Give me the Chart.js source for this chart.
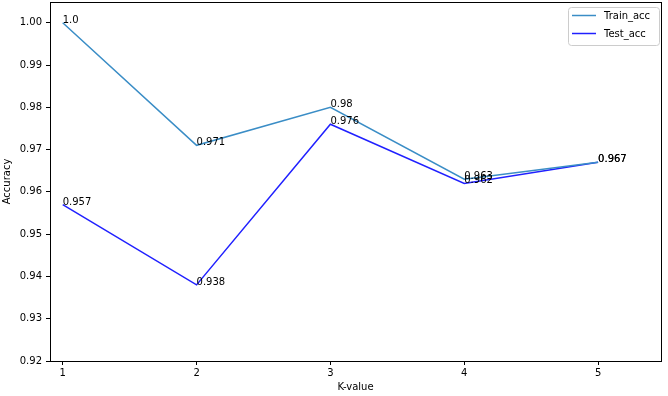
<!DOCTYPE html>
<html><head><meta charset="utf-8">
<script src="https://cdn.jsdelivr.net/npm/chart.js@4/dist/chart.umd.min.js"></script>
<style>html,body{margin:0;padding:0;background:#fff}#wrap{width:668px;height:396px}</style>
</head><body><div id="wrap"><canvas id="c"></canvas></div>
<script>
const kValues = [1, 2, 3, 4, 5];
const trainAcc = [1.0, 0.971, 0.98, 0.963, 0.967];
const testAcc = [0.957, 0.938, 0.976, 0.962, 0.967];
const trainLabels = ["1.0", "0.971", "0.98", "0.963", "0.967"];
const testLabels = ["0.957", "0.938", "0.976", "0.962", "0.967"];
const xTicks = [1, 2, 3, 4, 5];
const yTicks = [0.92, 0.93, 0.94, 0.95, 0.96, 0.97, 0.98, 0.99, 1.00];

const FONT = "'DejaVu Sans', sans-serif";
const trainColor = '#3a8dc6';
const testColor = '#2020ff';

const pointLabels = {
  id: 'pointLabels',
  afterDatasetsDraw(chart) {
    const ctx = chart.ctx;
    const xs = chart.scales.x, ys = chart.scales.y;
    ctx.save();
    ctx.font = '10px ' + FONT;
    ctx.fillStyle = '#000';
    ctx.textAlign = 'left';
    ctx.textBaseline = 'alphabetic';
    const sets = [[trainAcc, trainLabels], [testAcc, testLabels]];
    sets.forEach(([vals, labs]) => {
      vals.forEach((v, i) => {
        ctx.fillText(labs[i], xs.getPixelForValue(kValues[i]), ys.getPixelForValue(v));
      });
    });
    // frame
    const a = chart.chartArea;
    ctx.strokeStyle = '#000';
    ctx.lineWidth = 1;
    ctx.strokeRect(Math.round(a.left) + 0.5, Math.round(a.top) + 0.5, Math.round(a.right - a.left), Math.round(a.bottom - a.top));
    // legend
    const lx = 568, ly = 7, lw = 91, lh = 38;
    ctx.fillStyle = 'rgba(255,255,255,0.8)';
    ctx.strokeStyle = '#cccccc';
    ctx.beginPath();
    ctx.roundRect(lx + 0.5, ly + 0.5, lw, lh, 3);
    ctx.fill(); ctx.stroke();
    chart.data.datasets.forEach((ds, i) => {
      const y = 15.5 + i * 18;
      ctx.strokeStyle = ds.borderColor;
      ctx.lineWidth = 1.5;
      ctx.beginPath(); ctx.moveTo(572, y); ctx.lineTo(596, y); ctx.stroke();
      ctx.fillStyle = '#000';
      ctx.textBaseline = 'middle';
      ctx.fillText(ds.label, 604, y + 0.5);
    });
    ctx.restore();
  }
};

new Chart(document.getElementById('c'), {
  type: 'line',
  data: {
    datasets: [
      { label: 'Train_acc', data: kValues.map((k, i) => ({x: k, y: trainAcc[i]})), borderColor: trainColor, borderWidth: 1.5, pointRadius: 0, tension: 0, fill: false },
      { label: 'Test_acc', data: kValues.map((k, i) => ({x: k, y: testAcc[i]})), borderColor: testColor, borderWidth: 1.5, pointRadius: 0, tension: 0, fill: false }
    ]
  },
  options: {
    responsive: true, maintainAspectRatio: false, animation: false,
    layout: { padding: { left: 0, top: 2, right: 7, bottom: 0 } },
    plugins: { legend: { display: false }, tooltip: { enabled: false } },
    scales: {
      x: {
        type: 'linear', min: 0.905, max: 5.47,
        afterBuildTicks: s => { s.ticks = xTicks.map(v => ({value: v})); },
        afterFit: s => { s.height = 35; s.paddingLeft = 0; s.paddingRight = 0; },
        grid: { drawOnChartArea: false, tickLength: 4, color: '#000', tickColor: '#000' },
        border: { display: false },
        ticks: { color: '#000', font: { family: FONT, size: 10 }, padding: 2, maxRotation: 0, autoSkip: false, callback: v => String(v) },
        title: { display: true, text: 'K-value', color: '#000', font: { family: FONT, size: 10 }, padding: { top: 0, bottom: 3 } }
      },
      y: {
        type: 'linear', min: 0.92, max: 1.0049,
        afterBuildTicks: s => { s.ticks = yTicks.map(v => ({value: v})); },
        afterFit: s => { s.width = 50; s.paddingTop = 0; s.paddingBottom = 0; },
        grid: { drawOnChartArea: false, tickLength: 4, color: '#000', tickColor: '#000' },
        border: { display: false },
        ticks: { color: '#000', font: { family: FONT, size: 10 }, padding: 4, autoSkip: false, callback: v => v.toFixed(2) },
        title: { display: true, text: 'Accuracy', color: '#000', font: { family: FONT, size: 10 }, padding: { top: 1, bottom: 0 } }
      }
    }
  },
  plugins: [pointLabels]
});
</script></body></html>
